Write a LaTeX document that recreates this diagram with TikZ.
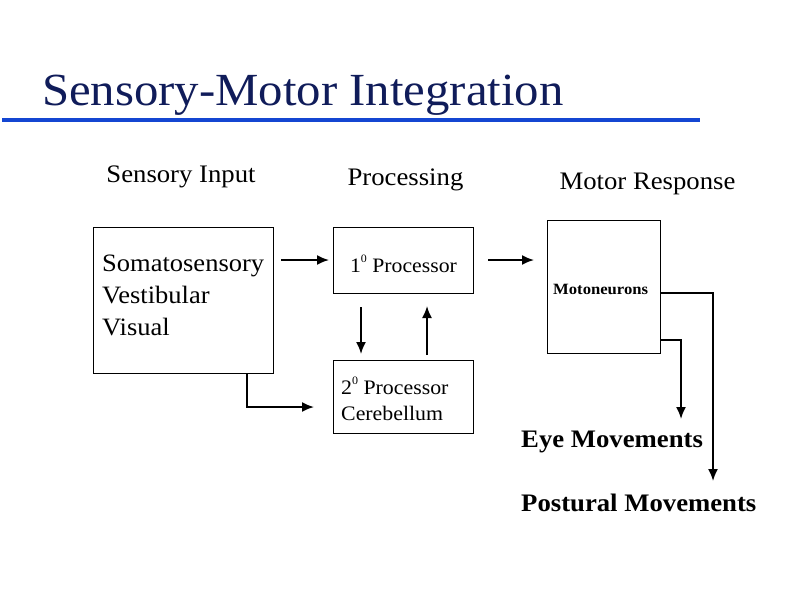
\documentclass[tikz,border=0pt]{standalone}
\usepackage{fontspec}
\setmainfont[FakeStretch=1.06]{Liberation Serif}
\usetikzlibrary{arrows.meta}
\definecolor{titlecol}{RGB}{16,28,90}
\definecolor{rulecol}{RGB}{20,70,210}
\newcommand{\degsup}{\raisebox{0.45em}{\scalebox{0.55}{0}}}
\begin{document}
\begin{tikzpicture}[x=1pt,y=-1pt,
  box/.style={draw,line width=0.8pt,inner sep=0pt},
  conn/.style={line width=1.8pt,-{Latex[length=12pt,width=10pt]}},
  head/.style={font=\fontsize{25.2}{30}\selectfont,anchor=base,inner sep=0pt},
  txt/.style={font=\fontsize{25}{30}\selectfont,anchor=base west,inner sep=0pt},
  ptxt/.style={font=\fontsize{20.6}{25}\selectfont,anchor=base west,inner sep=0pt},
  outtxt/.style={font=\fontsize{25.2}{30}\selectfont\bfseries,anchor=base west,inner sep=0pt}]
\useasboundingbox (0,0) rectangle (800,600);
\fill[white] (0,0) rectangle (800,600);
\node[font=\fontsize{46}{52}\selectfont,text=titlecol,anchor=base west,inner sep=0pt] (title) at (42,105) {Sensory-Motor Integration};
\fill[rulecol] (2,118) rectangle (700,121.5);
\node[head] (h1) at (181,182) {Sensory Input};
\node[head] (h2) at (405.5,185) {Processing};
\node[head] (h3) at (647.5,189) {Motor Response};
% boxes
\node[box,minimum width=180pt,minimum height=146pt] (sens) at (183,300) {};
\node[txt] (t1) at (102,271) {Somatosensory};
\node[txt] (t2) at (102,303) {Vestibular};
\node[txt] (t3) at (102,335) {Visual};
\node[box,minimum width=140pt,minimum height=66pt] (p1) at (403,260) {};
\node[font=\fontsize{20.5}{25}\selectfont,anchor=base,inner sep=0pt] (p1l) at (403.5,272) {1\degsup\ Processor};
\node[box,minimum width=140pt,minimum height=73pt] (p2) at (403,396.5) {};
\node[ptxt] (p2a) at (341,394) {2\degsup\ Processor};
\node[ptxt] (p2b) at (341,420) {Cerebellum};
\node[box,minimum width=113pt,minimum height=133pt] (mot) at (603.5,286.5) {};
\node[font=\fontsize{15.7}{19}\selectfont\bfseries,anchor=base west,inner sep=0pt] (motl) at (553,294) {Motoneurons};
\node[outtxt] (eye) at (521,447.5) {Eye Movements};
\node[outtxt] (post) at (521,511.5) {Postural Movements};
% coordinates
\coordinate (a1s) at (281,260); \coordinate (a1e) at (329,260);
\coordinate (a2s) at (488,260); \coordinate (a2e) at (534,260);
\coordinate (d1s) at (361,307); \coordinate (d1e) at (361,354);
\coordinate (u1s) at (427,355); \coordinate (u1e) at (427,306);
\coordinate (b1s) at (247,373); \coordinate (b1e) at (314,407);
\coordinate (m1s) at (660,293); \coordinate (m1e) at (713,481);
\coordinate (m2s) at (660,340); \coordinate (m2e) at (681,419);
\draw[conn] (a1s) -- (a1e);
\draw[conn] (a2s) -- (a2e);
\draw[conn] (d1s) -- (d1e);
\draw[conn] (u1s) -- (u1e);
\draw[conn] (b1s) |- (b1e);
\draw[conn] (m1s) -| (m1e);
\draw[conn] (m2s) -| (m2e);
\end{tikzpicture}
\end{document}
